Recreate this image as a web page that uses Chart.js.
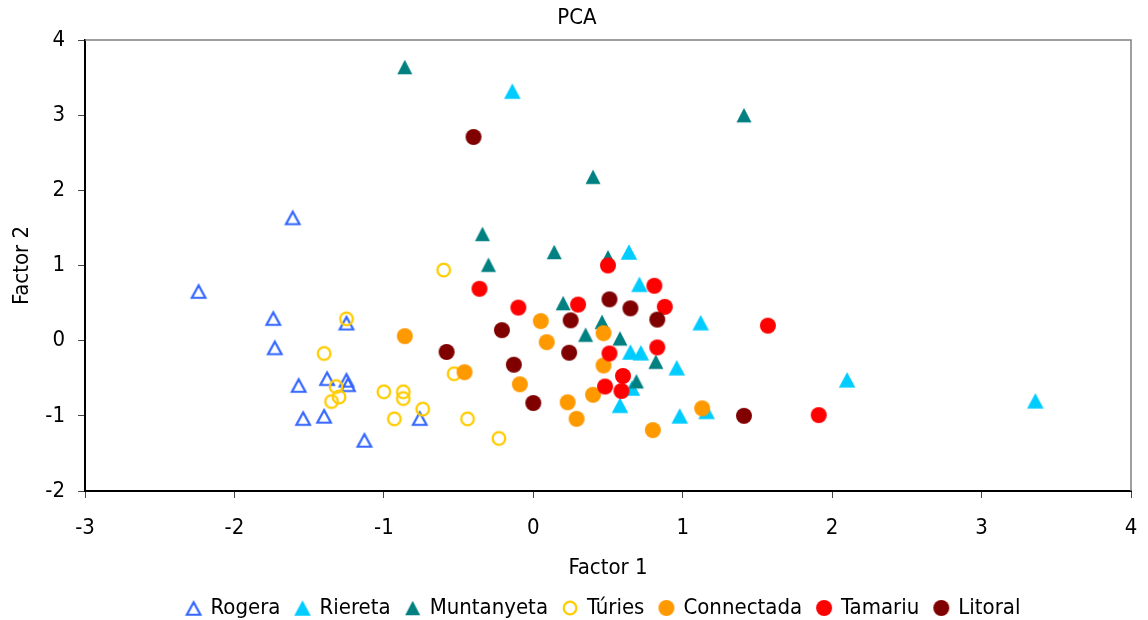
<!DOCTYPE html>
<html>
<head>
<meta charset="utf-8">
<script src="https://cdn.jsdelivr.net/npm/chart.js@4.4.1/dist/chart.umd.min.js"></script>
<style>
  html, body { margin: 0; padding: 0; background: #fff; }
  #wrap { width: 1148px; height: 620px; }
</style>
</head>
<body>
<div id="wrap"><canvas id="pca" width="1148" height="620"></canvas></div>
<script>
// PCA scores per site: [Factor 1, Factor 2]
const rogera = [[-1.61,1.64],[-2.24,0.66],[-1.74,0.30],[-1.73,-0.09],[-1.25,0.24],[-1.57,-0.59],[-1.38,-0.50],
  [-1.25,-0.52],[-1.24,-0.58],[-1.54,-1.03],[-1.40,-1.00],[-1.13,-1.32],[-0.76,-1.03]];
const riereta = [[-0.14,3.32],[0.64,1.18],[0.71,0.75],[0.65,-0.15],[0.72,-0.16],[0.96,-0.36],[0.66,-0.63],
  [0.58,-0.86],[0.98,-1.00],[1.12,0.24],[2.10,-0.52],[3.36,-0.80],[1.16,-0.94]];
const muntanyeta = [[-0.86,3.64],[1.41,3.00],[0.40,2.18],[-0.34,1.42],[-0.30,1.01],[0.14,1.18],[0.50,1.11],
  [0.20,0.50],[0.46,0.25],[0.35,0.08],[0.58,0.03],[0.82,-0.28],[0.69,-0.54]];
const turies = [[-0.60,0.94],[-1.25,0.29],[-1.40,-0.17],[-0.53,-0.44],[-1.32,-0.61],[-1.30,-0.75],[-1.35,-0.81],
  [-1.00,-0.68],[-0.87,-0.68],[-0.87,-0.77],[-0.74,-0.91],[-0.93,-1.04],[-0.44,-1.04],[-0.23,-1.30]];
const connectada = [[-0.86,0.06],[-0.46,-0.42],[0.05,0.26],[0.09,-0.02],[-0.09,-0.58],[0.23,-0.82],[0.29,-1.04],
  [0.47,0.10],[0.47,-0.33],[0.40,-0.72],[0.80,-1.19],[1.13,-0.90]];
const tamariu = [[-0.36,0.69],[-0.10,0.44],[0.30,0.48],[0.50,1.00],[0.81,0.73],[0.88,0.45],[0.51,-0.17],
  [0.83,-0.09],[0.60,-0.47],[0.48,-0.61],[0.59,-0.67],[1.57,0.20],[1.91,-0.99]];
const litoral = [[-0.40,2.71],[-0.58,-0.15],[-0.21,0.14],[-0.13,-0.32],[0.00,-0.83],[0.25,0.27],[0.24,-0.16],
  [0.51,0.55],[0.65,0.43],[0.83,0.28],[1.41,-1.00]];

const seriesNames = ['Rogera', 'Riereta', 'Muntanyeta', 'Túries', 'Connectada', 'Tamariu', 'Litoral'];
const seriesData = [rogera, riereta, muntanyeta, turies, connectada, tamariu, litoral];

const xTicks = [-3, -2, -1, 0, 1, 2, 3, 4];
const yTicks = [-2, -1, 0, 1, 2, 3, 4];

const FONT = "'DejaVu Sans Condensed', 'Liberation Sans', sans-serif";
Chart.defaults.font.family = FONT;
Chart.defaults.color = '#000';

// marker sprites
function triMarker(color, w, h, open, lw) {
  const c = document.createElement('canvas');
  c.width = 22; c.height = 22;
  const g = c.getContext('2d');
  const cx = 11, cy = open ? 11.5 : 11;
  g.beginPath();
  g.moveTo(cx, cy - h / 2);
  g.lineTo(cx + w / 2, cy + h / 2);
  g.lineTo(cx - w / 2, cy + h / 2);
  g.closePath();
  if (open) { g.strokeStyle = color; g.lineWidth = lw; g.lineJoin = 'miter'; g.stroke(); }
  else { g.fillStyle = color; g.fill(); }
  return c;
}
function dotMarker(color, r, open, lw) {
  const c = document.createElement('canvas');
  c.width = 20; c.height = 20;
  const g = c.getContext('2d');
  g.beginPath();
  g.arc(10, 10, r, 0, Math.PI * 2);
  if (open) { g.strokeStyle = color; g.lineWidth = lw; g.stroke(); }
  else { g.fillStyle = color; g.fill(); }
  return c;
}

const markers = [
  triMarker('#3366FF', 13.5, 12.5, true, 2.2),
  triMarker('#00CCFF', 16.5, 15.5, false),
  triMarker('#008080', 15, 14.5, false),
  dotMarker('#FFCC00', 6.3, true, 2.3),
  dotMarker('#FF9900', 8, false),
  dotMarker('#FF0000', 8, false),
  dotMarker('#800000', 8, false)
];

const datasets = seriesNames.map((name, i) => ({
  label: name,
  data: seriesData[i].map(p => ({ x: p[0], y: p[1] })),
  pointStyle: markers[i],
  pointRadius: 8,
  pointHoverRadius: 8,
  order: seriesNames.length - i
}));

// grey frame on top and right of the plot area
const plotFrame = {
  id: 'plotFrame',
  beforeDatasetsDraw(chart) {
    const { ctx, chartArea: a } = chart;
    ctx.save();
    ctx.strokeStyle = '#808080';
    ctx.lineWidth = 1.5;
    ctx.beginPath();
    ctx.moveTo(a.left, a.top);
    ctx.lineTo(a.right, a.top);
    ctx.lineTo(a.right, a.bottom);
    ctx.stroke();
    ctx.restore();
  }
};

// center the title and the legend row on the plot area
const centerOnPlot = {
  id: 'centerOnPlot',
  afterLayout(chart) {
    const a = chart.chartArea;
    const lg = chart.legend;
    if (lg) {
      lg.left = a.left - 8;
      lg.right = a.right;
      lg.width = lg.right - lg.left;
    }
    const tt = chart.titleBlock;
    if (tt) {
      tt.left = a.left - 62;
      tt.right = a.right;
      tt.width = tt.right - tt.left;
    }
  }
};

new Chart(document.getElementById('pca'), {
  type: 'scatter',
  data: { datasets },
  plugins: [plotFrame, centerOnPlot],
  options: {
    responsive: false,
    animation: false,
    devicePixelRatio: 1,
    events: [],
    layout: { padding: { left: 0, right: 17, top: 0, bottom: -9 } },
    plugins: {
      tooltip: { enabled: false },
      title: {
        display: true,
        text: 'PCA',
        color: '#000',
        font: { size: 22, weight: 'normal', family: FONT },
        padding: { top: 5, bottom: 8.6 }
      },
      legend: {
        position: 'bottom',
        labels: {
          usePointStyle: true,
          boxWidth: 12,
          boxHeight: 12,
          padding: 16,
          color: '#000',
          font: { size: 22, family: FONT },
          sort: (a, b) => a.datasetIndex - b.datasetIndex
        }
      }
    },
    scales: {
      x: {
        type: 'linear',
        min: xTicks[0],
        max: xTicks[xTicks.length - 1],
        afterBuildTicks: s => { s.ticks = xTicks.map(v => ({ value: v })); },
        afterFit: s => { s.height = 90; s.paddingLeft = 0; s.paddingRight = 0; },
        ticks: { padding: 17, color: '#000', font: { size: 22 } },
        grid: { drawOnChartArea: false, drawTicks: true, tickLength: 7, color: '#444', lineWidth: 1 },
        border: { display: true, color: '#000', width: 2 },
        title: { display: true, text: 'Factor 1', color: '#000', font: { size: 22 }, padding: { top: 0, bottom: 0 } }
      },
      y: {
        type: 'linear',
        min: yTicks[0],
        max: yTicks[yTicks.length - 1],
        afterBuildTicks: s => { s.ticks = yTicks.map(v => ({ value: v })); },
        afterFit: s => { s.width = 85; },
        ticks: { padding: 13, color: '#000', font: { size: 22 } },
        grid: { drawOnChartArea: false, drawTicks: true, tickLength: 7, color: '#444', lineWidth: 1 },
        border: { display: true, color: '#000', width: 2 },
        title: { display: true, text: 'Factor 2', color: '#000', font: { size: 22 }, padding: { top: 9, bottom: 0 } }
      }
    }
  }
});
</script>
</body>
</html>
